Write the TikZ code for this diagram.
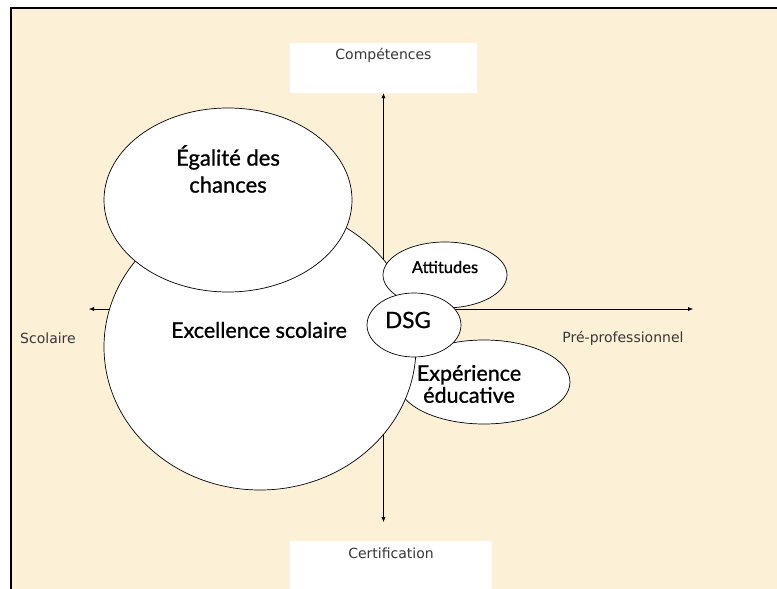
\documentclass[tikz,border=0pt]{standalone}
\usepackage{fontspec}
\setmainfont[FakeBold=1]{Lato}
\newfontfamily\axisfont{DejaVu Sans}
\usetikzlibrary{shapes.geometric,arrows.meta}
\definecolor{parchment}{RGB}{252,240,215}
\definecolor{axisgray}{RGB}{55,55,55}

\begin{document}
\begin{tikzpicture}[x=1pt,y=-1pt,>={Latex[length=5pt,width=4pt]},
    bubble/.style={draw,ellipse,fill=white,line width=0.7pt,inner sep=0pt},
    bubbletext/.style={font=\fontsize{22}{27}\selectfont,align=center},
    axislabel/.style={font=\axisfont\fontsize{14}{16}\selectfont,text=axisgray},
    labelbox/.style={fill=white,inner sep=0pt}]
	 \useasboundingbox (0,0) rectangle (777,589);%page size
          
            \fill[white] (0,0) rectangle (777,589);
            \fill[parchment] (11,8) rectangle (777,589);
            \draw[line width=2pt] (11,589)--(11,8)--(777,8);

            % white boxes at the ends of the vertical axis
            \node[labelbox,minimum width=187pt,minimum height=50pt] (comp) at (383.5,68) {};
            \node[labelbox,minimum width=202pt,minimum height=48pt] (cert) at (391,565) {};
            \node[axislabel] (comptext) at (383.5,55) {Compétences};
            \node[axislabel] (certtext) at (391,553) {Certification};

            \coordinate (west) at (89,309);
            \coordinate (east) at (693,309);
            \coordinate (south) at (383.5,522);
            \draw[<->] (west)--(east);
            \draw[<->] (comp.south)--(south);

            \node[axislabel] (scol) at (48,338) {Scolaire};
            \node[axislabel] (prepro) at (623,338) {Pré-professionnel};

            % bubbles, back to front
            \node[bubble,minimum width=172pt,minimum height=84pt] (exp) at (484,382) {};
            \node[bubble,minimum width=312pt,minimum height=286pt] (excel) at (260,347) {};
            \node[bubble,minimum width=248pt,minimum height=184pt] (egal) at (228,200) {};
            \node[bubble,minimum width=124pt,minimum height=66pt] (att) at (445,275) {};
            \node[bubble,minimum width=94pt,minimum height=64pt] (dsg) at (414,325) {};

            \node[bubbletext] (egaltext) at (228,169) {Égalité des\\chances};
            \node[bubbletext,font=\fontsize{21.5}{23}\selectfont] (exceltext) at (259,330) {Excellence scolaire};
            \node[bubbletext,font=\fontsize{16.5}{18}\selectfont] (atttext) at (445,267) {Attitudes};
            \node[bubbletext,font=\fontsize{22.5}{24}\selectfont] (dsgtext) at (408,320) {DSG};
            \node[bubbletext,font=\fontsize{21.5}{22}\selectfont] (exptext) at (469,384) {Expérience\\éducative};
        \end{tikzpicture}
\end{document}
